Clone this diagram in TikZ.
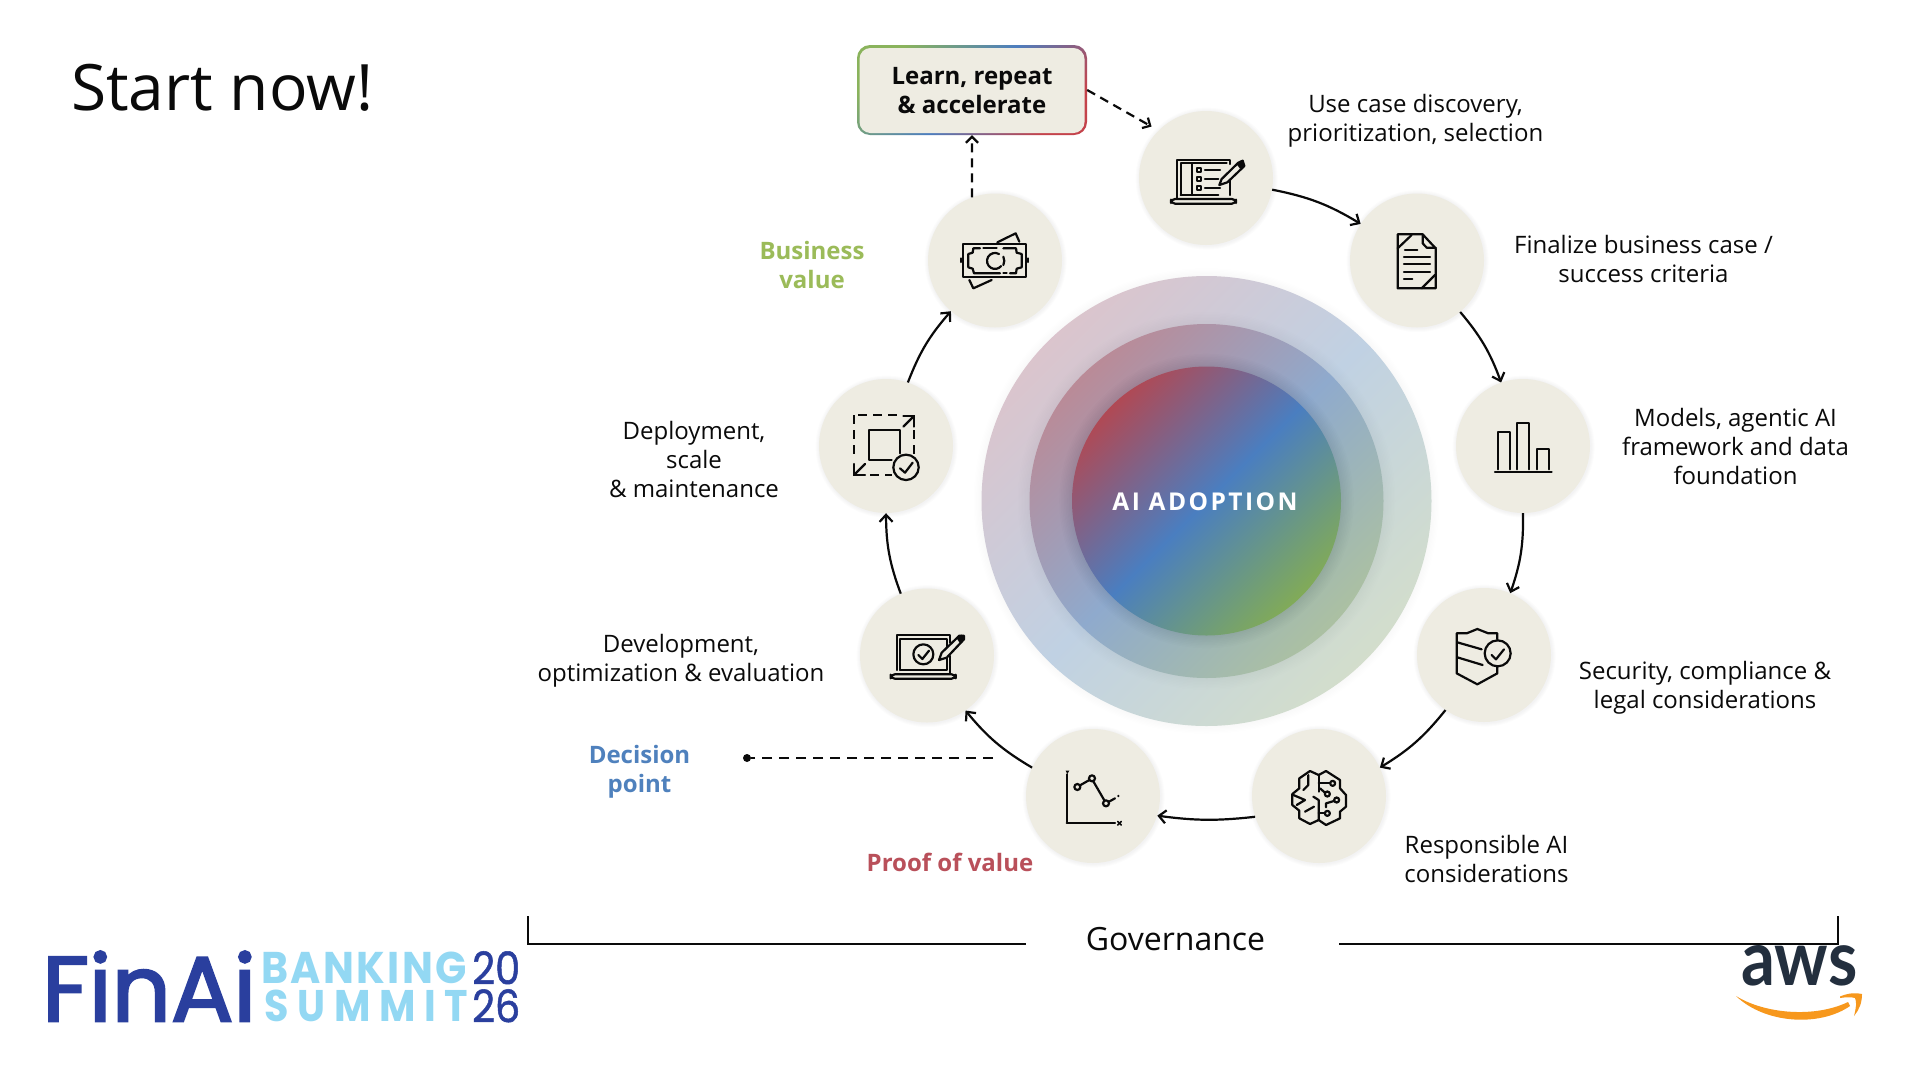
\documentclass[tikz,border=0pt]{standalone}
\usepackage{graphicx}
\usepackage{fontspec}
\setmainfont{Open Sans}
\newfontfamily\popfont[FakeBold=2.5]{Poppins}
\newfontfamily\popyear[FakeBold=1.2]{Poppins}
\newfontfamily\popspaced[LetterSpace=6]{Poppins}
\newfontfamily\popwide[LetterSpace=22]{Poppins}
\newfontfamily\awsfont{Lato}
\newfontfamily\corefont[LetterSpace=10]{Open Sans}
\usetikzlibrary{arrows.meta}
\definecolor{beige}{HTML}{EEECE2}
\definecolor{inkblack}{HTML}{0A0A0A}
\definecolor{redlab}{HTML}{B9505A}
\definecolor{bluelab}{HTML}{4F81BD}
\definecolor{greenlab}{HTML}{9BBB59}
\definecolor{logoblue}{HTML}{2A3F9E}
\definecolor{logosky}{HTML}{93D8F3}
\definecolor{awsnavy}{HTML}{232F3E}
\definecolor{awsorange}{HTML}{F7981D}
\definecolor{ringAr}{HTML}{DEC3CA}
\definecolor{ringAb}{HTML}{C0D1E3}
\definecolor{ringAg}{HTML}{D5DFC9}
\definecolor{ringBr}{HTML}{BF8791}
\definecolor{ringBb}{HTML}{8FAACD}
\definecolor{ringBg}{HTML}{AFC39D}
\definecolor{ringCr}{HTML}{BC4348}
\definecolor{ringCb}{HTML}{4A7EC0}
\definecolor{ringCg}{HTML}{88B04B}
\definecolor{edgeG}{HTML}{8AB35C}
\definecolor{edgeB}{HTML}{4D7EBE}
\definecolor{edgeR}{HTML}{C4434B}
\pgfdeclareverticalshading{ringAshade}{100bp}{color(0bp)=(ringAg); color(22bp)=(ringAg); color(50bp)=(ringAb); color(78bp)=(ringAr); color(100bp)=(ringAr)}
\pgfdeclareverticalshading{ringBshade}{100bp}{color(0bp)=(ringBg); color(22bp)=(ringBg); color(50bp)=(ringBb); color(78bp)=(ringBr); color(100bp)=(ringBr)}
\pgfdeclareverticalshading{ringCshade}{100bp}{color(0bp)=(ringCg); color(22bp)=(ringCg); color(50bp)=(ringCb); color(78bp)=(ringCr); color(100bp)=(ringCr)}
\tikzset{
  stepcirc/.style={circle,fill=beige,minimum size=134pt,inner sep=0pt},
  lab/.style={align=center,text=inkblack,font=\fontsize{24}{29}\selectfont,inner sep=0pt},
  blab/.style={align=center,font=\fontsize{24}{29}\selectfont\bfseries,inner sep=0pt},
  arr/.style={line width=2.2pt,inkblack,-{Straight Barb[length=7pt,width=13pt]},bend left=10},
  dasharr/.style={line width=2.2pt,inkblack,dash pattern=on 9pt off 6pt,-{Straight Barb[length=6pt,width=12pt]}},
  icon/.style={line width=2.2pt,inkblack,line join=round,line cap=round},
  logotext/.style={inner sep=0pt,anchor=north west},
  zoomA/.style={xshift=840pt,yshift=-30pt,x=0.33333pt,y=-0.33333pt},
  zoomB/.style={xshift=1300pt,yshift=-180pt,x=0.33333pt,y=-0.33333pt},
  zoomC/.style={xshift=1240pt,yshift=-570pt,x=0.33333pt,y=-0.33333pt},
  zoomD/.style={xshift=840pt,yshift=-360pt,x=0.33333pt,y=-0.33333pt}
}
\begin{document}
\begin{tikzpicture}[x=1pt,y=-1pt]
\useasboundingbox (0,0) rectangle (1920,1080);
\fill[white] (0,0) rectangle (1920,1080);

% title
\node[inner sep=0pt,anchor=west,text=inkblack,font=\fontsize{64}{70}\selectfont] (title) at (71,88) {Start now!};

% soft shadows and rings
\foreach \k in {1,...,6}{\fill[black,opacity=0.004] (1206.5,501) circle[radius=225pt+\k*1.3pt];}
\shade[shading=ringAshade,shading angle=45] (1206.5,501) circle[radius=225pt];
\foreach \k in {1,...,8}{\fill[black,opacity=0.005] (1206.5,501) circle[radius=177pt+\k*1.5pt];}
\shade[shading=ringBshade,shading angle=45] (1206.5,501) circle[radius=177pt];
\foreach \k in {1,...,8}{\fill[black,opacity=0.007] (1206.5,501) circle[radius=134.5pt+\k*1.6pt];}
\shade[shading=ringCshade,shading angle=45] (1206.5,501) circle[radius=134.5pt];
\node[inner sep=0pt,text=white,font=\fontsize{24.5}{29}\selectfont\bfseries\corefont] (core) at (1205,501.5) {AI ADOPTION};

% step circles
\foreach \p in {(1206,178),(1417,260.5),(1523,446),(1484,655),(1319,796),(1093,796),(927,655.5),(886,446),(995,260.5)}{
  \foreach \k in {1,...,4}{\fill[black!40!blue!50!black,opacity=0.01] \p ++(0.6,0.6) circle[radius=67pt+\k*1pt];}
}
\node[stepcirc] (c1) at (1206,178) {};
\node[stepcirc] (c2) at (1417,260.5) {};
\node[stepcirc] (c3) at (1523,446) {};
\node[stepcirc] (c4) at (1484,655) {};
\node[stepcirc] (c5) at (1319,796) {};
\node[stepcirc] (c6) at (1093,796) {};
\node[stepcirc] (c7) at (927,655.5) {};
\node[stepcirc] (c8) at (886,446) {};
\node[stepcirc] (c9) at (995,260.5) {};

% top box with gradient edge
\node[rectangle,rounded corners=13pt,minimum width=230pt,minimum height=90pt,inner sep=0pt,
  top color=edgeG,bottom color=edgeR,middle color=edgeB,shading angle=45] (box) at (972,90) {};
\node[rectangle,rounded corners=11pt,fill=beige,minimum width=225pt,minimum height=85pt,inner sep=0pt,
  align=center,text=inkblack,font=\fontsize{24}{29}\selectfont\bfseries] (boxtext) at (972,90.5) {Learn, repeat\\\& accelerate};

% connectors
\draw[arr] (c1.-10) to (c2.147);
\draw[arr] (c2.-50) to (c3.109);
\draw[arr] (c3.-90) to (c4.67.6);
\draw[arr] (c4.235) to (c5.25);
\draw[arr,bend left=7] (c5.198) to (c6.-17);
\draw[arr] (c6.155) to (c7.-55);
\draw[arr] (c7.113.5) to (c8.-90);
\draw[arr] (c8.71) to (c9.229);
\draw[dasharr] (c9.110) -- (box.south);
\draw[dasharr,shorten >=8pt] (box.east) -- (c1.135);
\node[circle,fill=inkblack,minimum size=8pt,inner sep=0pt] (dpdot) at (747,758) {};
\coordinate (dpend) at (993,758);
\draw[line width=2.2pt,inkblack,dash pattern=on 10pt off 7pt] (dpend) -- (dpdot);

% labels
\node[lab] (l1) at (1415.5,121) {Use case discovery,\\prioritization, selection};
\node[lab] (l2) at (1643.5,258.5) {Finalize business case /\\success criteria};
\node[lab] (l3) at (1735.5,446.5) {Models, agentic AI\\framework and data\\foundation};
\node[lab] (l4) at (1705,688) {Security, compliance \&\\legal considerations};
\node[lab] (l5) at (1486.5,859) {Responsible AI\\considerations};
\node[blab,text=redlab] (l6) at (950,862) {Proof of value};
\node[blab,text=bluelab] (l7) at (639.5,772) {Decision\\point};
\node[lab] (l8) at (681,660.5) {Development,\\optimization \& evaluation};
\node[lab] (l9) at (694,459) {Deployment,\\scale\\\& maintenance};
\node[blab,text=greenlab] (l10) at (812,264.5) {Business\\value};

% governance bracket
\node[inner sep=0pt,text=inkblack,font=\fontsize{32}{38}\selectfont] (gov) at (1175.5,939) {Governance};
\coordinate (brL) at (528,916);
\coordinate (brLb) at (528,944);
\coordinate (brLe) at (1026,944);
\coordinate (brR) at (1838,916);
\coordinate (brRb) at (1838,944);
\coordinate (brRe) at (1339,944);
\draw[line width=2pt,inkblack,line join=miter] (brL) -- (brLb) -- (brLe);
\draw[line width=2pt,inkblack,line join=miter] (brR) -- (brRb) -- (brRe);

% icon 1: laptop with checklist
\begin{scope}[zoomA,icon]
\draw (1012,505) -- (1012,390) -- (1170,390) -- (1170,402);
\draw (1022,495) -- (1022,400) -- (1160,400);
\draw (1022,495) -- (1135,495);
\draw (1055,400) -- (1055,495);
\draw[rounded corners=4pt] (993,507) rectangle (1188,521);
\draw (1070,413) rectangle (1083,426);
\draw (1070,440) rectangle (1083,453);
\draw (1070,467) rectangle (1083,480);
\draw (1095,420) -- (1140,420);
\draw (1095,447) -- (1135,447);
\draw (1095,474) -- (1140,474);
\draw (1170,440) -- (1170,495);
\draw[fill=beige] (1138,465) -- (1145,447) -- (1195,398) -- (1208,392) -- (1213,408) -- (1162,457) -- cycle;
\fill[inkblack] (1190,403) -- (1208,392) -- (1213,408) -- (1200,416) -- cycle;
\end{scope}

% icon 2: document
\begin{scope}[zoomB,icon]
\draw (293,163) -- (368,163) -- (407,205) -- (407,325) -- (293,325) -- cycle;
\draw (368,163) -- (368,190) -- (380,203) -- (407,203);
\draw (293,205) -- (335,165);
\draw (365,325) -- (405,285);
\draw (315,210) -- (352,210);
\draw (312,232) -- (390,232);
\draw (312,253) -- (390,253);
\draw (312,275) -- (390,275);
\draw (312,297) -- (337,297);
\end{scope}

% icon 3: bars
\begin{scope}[zoomB,icon]
\draw (585,875) -- (755,875);
\draw (593,868) -- (593,757) -- (630,757) -- (630,868);
\draw (652,868) -- (652,730) -- (688,730) -- (688,868);
\draw (711,868) -- (711,808) -- (747,808) -- (747,868);
\end{scope}

% icon 4: shield
\begin{scope}[zoomC,icon]
\draw (772,208) -- (772,190) -- (745,190) -- (712,177) -- (680,190) -- (650,190) -- (650,310) -- (712,343) -- (772,310) -- (772,290);
\draw (652,217) -- (725,238);
\draw (652,262) -- (728,285);
\draw (773,250) circle[radius=13pt];
\draw (755,255) -- (768,268) -- (792,238);
\end{scope}

% icon 5: brain
\begin{scope}[zoomC,icon]
\draw (236,615) -- (210,603) -- (178,625) -- (178,655) -- (157,672) -- (157,705) -- (178,722) -- (178,745) -- (210,762) -- (236,750) -- (258,765) -- (300,745) -- (300,725) -- (318,710) -- (318,675) -- (300,655) -- (300,630) -- (258,603) -- cycle;
\draw (236,615) -- (236,665);
\draw (236,640) -- (270,640);
\draw (278,640) circle[radius=2.5pt];
\draw (240,655) -- (255,668);
\draw (262,672) circle[radius=2.5pt];
\draw (290,690) circle[radius=2.5pt];
\draw (282,693) -- (258,700) -- (258,712);
\draw (262,730) circle[radius=2.5pt];
\draw (254,730) -- (236,730);
\draw (205,615) -- (205,645) -- (190,660);
\draw (160,675) -- (195,690) -- (170,705);
\draw (220,680) -- (236,690) -- (236,750);
\draw (195,725) -- (222,710);
\end{scope}

% icon 6: chart
\begin{scope}[zoomD,icon]
\draw (682,1243) -- (682,1385);
\draw (680,1390) -- (825,1390);
\fill[inkblack] (677,1232) -- (688,1232) -- (682,1242) -- cycle;
\draw[line width=1.6pt] (833,1384) -- (844,1395);
\draw[line width=1.6pt] (844,1384) -- (833,1395);
\draw (712,1281) circle[radius=3pt];
\draw (756,1255) circle[radius=3pt];
\draw (798,1330) circle[radius=3pt];
\draw (720,1276) -- (748,1260);
\draw (760,1264) -- (793,1321);
\draw (807,1325) -- (825,1315);
\fill[inkblack] (835,1308) circle[radius=1.3pt];
\end{scope}

% icon 7: laptop with check and pen
\begin{scope}[zoomD,icon]
\draw (170,930) -- (170,826) -- (330,826) -- (330,848);
\draw (181,930) -- (181,838) -- (320,838) -- (320,860);
\draw (181,930) -- (320,930) -- (320,885);
\draw (330,888) -- (330,938);
\draw[rounded corners=4pt] (152,943) rectangle (347,956);
\draw (250,883) circle[radius=10pt];
\draw (235,885) -- (247,897) -- (267,872);
\draw[fill=beige] (297,900) -- (305,878) -- (358,827) -- (372,827) -- (372,838) -- (320,893) -- cycle;
\fill[inkblack] (350,835) -- (364,824) -- (373,830) -- (372,840) -- (360,850) -- cycle;
\end{scope}

% icon 8: scale
\begin{scope}[zoomD,icon]
\draw[dash pattern=on 9pt off 6pt,line cap=butt] (55,165) -- (170,165);
\draw[dash pattern=on 9pt off 6pt,line cap=butt] (42,165) -- (42,300);
\draw[dash pattern=on 9pt off 6pt,line cap=butt] (222,210) -- (222,285);
\draw[dash pattern=on 9pt off 6pt,line cap=butt] (90,345) -- (155,345);
\draw (190,168) -- (222,168) -- (222,200);
\draw (222,168) -- (190,200);
\draw (42,312) -- (42,345) -- (75,345);
\draw (42,345) -- (75,312);
\draw (155,300) -- (87,300) -- (87,210) -- (180,210) -- (180,280);
\draw (198,322) circle[radius=12.7pt];
\draw (180,325) -- (195,338) -- (218,308);
\end{scope}

% icon 9: banknote
\begin{scope}[zoomA,icon]
\draw (472,637) -- (527,610) -- (538,635);
\draw (388,750) -- (400,775) -- (455,750);
\draw (370,643) rectangle (558,742);
\draw (420,655) -- (400,655) -- (398,668) -- (385,672) -- (385,712) -- (398,716) -- (402,730) -- (480,730);
\draw (490,730) -- (500,730);
\draw (510,730) -- (528,730) -- (530,716) -- (545,712) -- (545,672) -- (530,668) -- (528,655) -- (490,655);
\draw (430,655) -- (470,655);
\draw (477,672) arc[start angle=60,end angle=320,radius=8pt];
\draw (490,680) arc[start angle=25,end angle=-25,radius=10pt];
\draw (362,685) -- (362,696);
\draw (565,685) -- (565,696);
\end{scope}

% logos
\node[logotext,text=logoblue] (finai) at (42,951) {\resizebox{214pt}{70pt}{\popfont FinAi}};
\node[logotext,text=logosky] (bank) at (261,952) {\resizebox{206pt}{31.5pt}{\bfseries\popspaced BANKING}};
\node[logotext,text=logosky] (summit) at (264,990) {\resizebox{204pt}{31.5pt}{\bfseries\popwide SUMMIT}};
\node[logotext,text=logoblue] (y20) at (472,951) {\resizebox{48pt}{33pt}{\popyear 20}};
\node[logotext,text=logoblue] (y26) at (472,989) {\resizebox{48pt}{33pt}{\popyear 26}};
\node[logotext,text=awsnavy] (aws) at (1741,945) {\resizebox{116pt}{40pt}{\awsfont\bfseries aws}};
\fill[awsorange] (1736,996) .. controls (1765,1014) and (1815,1018) .. (1848,1002) -- (1850,1006) .. controls (1820,1027) and (1765,1024) .. (1736,996) -- cycle;
\fill[awsorange] (1840,996.5) .. controls (1848,993) and (1856,992.5) .. (1862,994) .. controls (1862,1003) and (1859,1010) .. (1854,1016) .. controls (1856,1008) and (1857,1002) .. (1855,998) .. controls (1852,997) and (1846,997) .. (1840,998) -- cycle;
\end{tikzpicture}
\end{document}
